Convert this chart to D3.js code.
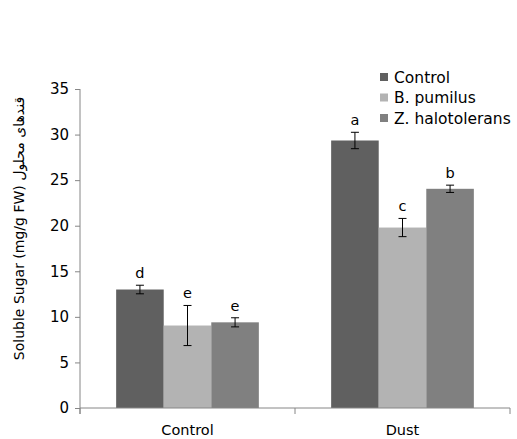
<!DOCTYPE html>
<html>
<head>
<meta charset="utf-8">
<script src="https://d3js.org/d3.v7.min.js"></script>
<style>
  body { margin: 0; background: #fff; }
  text { font-family: "DejaVu Sans", "Open Sans", sans-serif; fill: #000; }
</style>
</head>
<body>
<svg id="chart" width="517" height="439"></svg>
<script>
var groups = ["Control", "Dust"];
var treatments = ["Control", "B. pumilus", "Z. halotolerans"];
var controlVals = [13.0, 9.05, 9.4];
var dustVals = [29.35, 19.8, 24.05];
var controlErr = [0.47, 2.2, 0.5];
var dustErr = [0.9, 1.0, 0.4];
var controlLetters = ["d", "e", "e"];
var dustLetters = ["a", "c", "b"];
var yTicks = [0, 5, 10, 15, 20, 25, 30, 35];
var colors = ["#606060", "#b3b3b3", "#808080"];

var data = groups.map(function (g, i) {
    var vals = i === 0 ? controlVals : dustVals,
        errs = i === 0 ? controlErr : dustErr,
        lets = i === 0 ? controlLetters : dustLetters;
    return {
        group: g,
        bars: treatments.map(function (t, j) {
            return {treatment: t, value: vals[j], err: errs[j], letter: lets[j], idx: j};
        })
    };
});

var svg = d3.select("#chart"),
    margin = {top: 89, right: 7, bottom: 31, left: 80},
    width = +svg.attr("width"),
    height = +svg.attr("height");

var x0 = d3.scaleBand()
    .domain(groups)
    .range([margin.left, width - margin.right])
    .padding(0);

var x1 = d3.scaleBand()
    .domain(treatments)
    .range([0, x0.bandwidth()])
    .paddingInner(0)
    .paddingOuter(0.76);

var y = d3.scaleLinear()
    .domain([0, 35])
    .range([height - margin.bottom, margin.top]);

var axisColor = "#868686";

// y axis
var yAxis = svg.append("g")
    .attr("transform", `translate(${margin.left},0)`)
    .call(d3.axisLeft(y).tickValues(yTicks).tickSize(5).tickSizeOuter(0).tickPadding(6));
yAxis.select(".domain").attr("stroke", axisColor)
    .attr("d", `M0,${y(35)}V${y(0) + 6}`);
yAxis.selectAll(".tick line").attr("stroke", axisColor);
yAxis.selectAll(".tick text")
    .style("font-size", "15px")
    .style("font-family", "DejaVu Sans")
    .attr("fill", "#000");

// bars
var g = svg.selectAll(".grp")
    .data(data)
    .enter().append("g")
    .attr("class", "grp")
    .attr("transform", d => `translate(${x0(d.group)},0)`);

g.selectAll("rect")
    .data(d => d.bars)
    .enter().append("rect")
    .attr("x", d => x1(d.treatment))
    .attr("y", d => y(d.value))
    .attr("width", x1.bandwidth())
    .attr("height", d => y(0) - y(d.value))
    .attr("fill", d => colors[d.idx]);

// error bars
var eb = g.selectAll(".err")
    .data(d => d.bars)
    .enter().append("g")
    .attr("class", "err")
    .attr("stroke", "#000")
    .attr("stroke-width", 1);
var cx = d => x1(d.treatment) + x1.bandwidth() / 2;
eb.append("line")
    .attr("x1", cx).attr("x2", cx)
    .attr("y1", d => y(d.value + d.err)).attr("y2", d => y(d.value - d.err));
eb.append("line")
    .attr("x1", d => cx(d) - 4).attr("x2", d => cx(d) + 4)
    .attr("y1", d => y(d.value + d.err)).attr("y2", d => y(d.value + d.err));
eb.append("line")
    .attr("x1", d => cx(d) - 4).attr("x2", d => cx(d) + 4)
    .attr("y1", d => y(d.value - d.err)).attr("y2", d => y(d.value - d.err));

// letters
g.selectAll(".letter")
    .data(d => d.bars)
    .enter().append("text")
    .attr("class", "letter")
    .attr("x", cx)
    .attr("y", d => y(d.value + d.err) - 7)
    .attr("text-anchor", "middle")
    .style("font-size", "14.5px")
    .text(d => d.letter);

// x axis
var xAxis = svg.append("g")
    .attr("transform", `translate(0,${y(0)})`);
xAxis.append("line")
    .attr("x1", margin.left).attr("x2", width - margin.right)
    .attr("stroke", axisColor);
xAxis.selectAll(".tk")
    .data(groups.concat(["end"]))
    .enter().append("line")
    .attr("x1", (d, i) => margin.left + i * x0.step())
    .attr("x2", (d, i) => margin.left + i * x0.step())
    .attr("y1", 0).attr("y2", 6)
    .attr("stroke", axisColor);
xAxis.selectAll(".lbl")
    .data(groups)
    .enter().append("text")
    .attr("x", d => x0(d) + x0.bandwidth() / 2)
    .attr("y", 27)
    .attr("text-anchor", "middle")
    .style("font-size", "14.5px")
    .text(d => d);

// y label
svg.append("text")
    .attr("transform", `translate(24,${(y(0) + y(35)) / 2 - 20}) rotate(-90)`)
    .attr("text-anchor", "middle")
    .style("font-size", "14px")
    .text("Soluble Sugar (mg/g FW) قندهای محلول");

// legend
var legend = svg.append("g")
    .attr("transform", "translate(380,77)");
var li = legend.selectAll(".li")
    .data(treatments)
    .enter().append("g")
    .attr("transform", (d, i) => `translate(0,${i * 20.5})`);
li.append("rect")
    .attr("x", 0).attr("y", -4)
    .attr("width", 8).attr("height", 8)
    .attr("fill", (d, i) => colors[i]);
li.append("text")
    .attr("x", 14).attr("y", 5.5)
    .style("font-size", "15.5px")
    .text(d => d);
</script>
</body>
</html>
